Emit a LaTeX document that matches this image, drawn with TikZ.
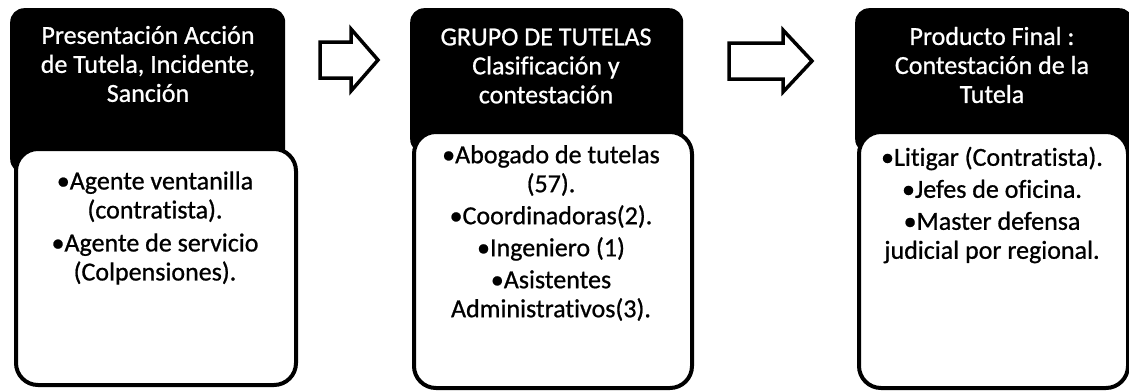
\documentclass[tikz,border=0pt]{standalone}
\usepackage{fontspec}
\setmainfont{Carlito}[Ligatures=NoCommon, FakeBold=0.8]
\begin{document}
\begin{tikzpicture}[x=1pt,y=-1pt,
  hdr/.style={fill=black, draw=none, rounded corners=14pt, inner sep=0pt, anchor=north west},
  bodybox/.style={fill=white, draw=black, line width=4pt, rounded corners=22pt, inner sep=0pt, anchor=north west},
  htxt/.style={text=white, align=center, inner sep=0pt, font=\fontsize{26}{29}\selectfont},
  btxt/.style={text=black, align=center, inner sep=0pt, font=\fontsize{26}{29}\selectfont},
  blockarrow/.style={draw=black, fill=white, line width=3.5pt, line join=miter}]
\useasboundingbox (0,0) rectangle (1129,391);
% headers
\node[hdr, minimum width=275pt, minimum height=165pt] (h1) at (10,8) {};
\node[hdr, minimum width=273pt, minimum height=145pt] (h2) at (410,8) {};
\node[hdr, minimum width=278pt, minimum height=145pt] (h3) at (855,8) {};
% bodies
\node[bodybox, minimum width=280pt, minimum height=236pt] (b1) at (14,147) {};
\node[bodybox, minimum width=278pt, minimum height=256pt] (b2) at (412,130) {};
\node[bodybox, minimum width=269pt, minimum height=256pt] (b3) at (857,130) {};
% header texts
\node[htxt] (t1) at (148,64) {Presentación Acción\\de Tutela, Incidente,\\Sanción};
\node[htxt] (t2) at (546,66) {GRUPO DE TUTELAS\\Clasificación y\\contestación};
\node[htxt] (t3) at (992,65) {Producto Final :\\Contestación de la\\Tutela};
% body texts
\node[btxt] (l1) at (155,228) {\textbullet Agente ventanilla\\(contratista).\\[4pt]\textbullet Agente de servicio\\(Colpensiones).};
\node[btxt] (l2) at (551,233) {\textbullet Abogado de tutelas\\(57).\\[3pt]\textbullet Coordinadoras(2).\\[3pt]\textbullet Ingeniero (1)\\[3pt]\textbullet Asistentes\\Administrativos(3).};
\node[btxt] (l3) at (992,205) {\textbullet Litigar (Contratista).\\[3pt]\textbullet Jefes de oficina.\\[3pt]\textbullet Master defensa\\judicial por regional.};
% block arrows
\draw[blockarrow] (320,42) -- (351,42) -- (351,29) -- (378,60) -- (351,91) -- (351,78) -- (320,78) -- cycle;
\draw[blockarrow] (729,43) -- (783,43) -- (783,30) -- (812,61) -- (783,92) -- (783,79) -- (729,79) -- cycle;
\end{tikzpicture}
\end{document}
